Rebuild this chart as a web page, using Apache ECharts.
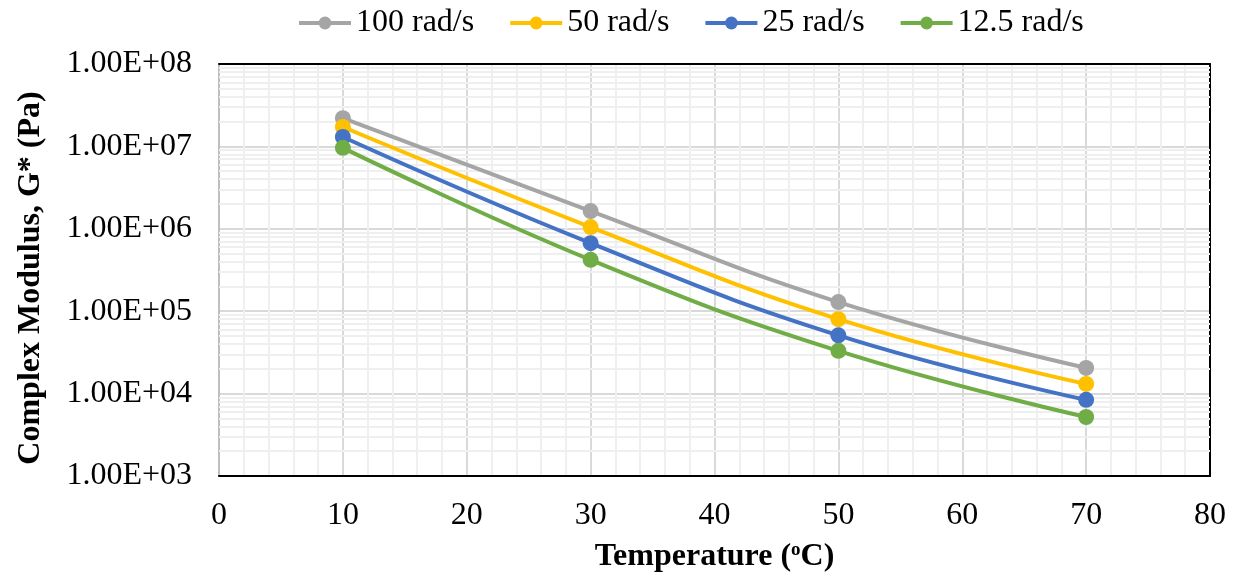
<!DOCTYPE html>
<html><head><meta charset="utf-8">
<script src="https://cdn.jsdelivr.net/npm/echarts@6/dist/echarts.min.js"></script>
<style>html,body{margin:0;padding:0;background:#fff}#c{width:1235px;height:581px}</style>
</head><body><div id="c"></div>
<script>
const temperatures = [10, 30, 50, 70];
const seriesNames = ['100 rad/s', '50 rad/s', '25 rad/s', '12.5 rad/s'];
const g100 = [2.2e7, 1.64e6, 1.29e5, 2.05e4];
const g50 = [1.72e7, 1.05e6, 8.0e4, 1.31e4];
const g25 = [1.30e7, 6.7e5, 5.1e4, 8.4e3];
const g12_5 = [9.6e6, 4.2e5, 3.3e4, 5.2e3];
const colors = ['#A5A5A5', '#FFC000', '#4472C4', '#70AD47'];
const yTickLabels = ['1.00E+03','1.00E+04','1.00E+05','1.00E+06','1.00E+07','1.00E+08'];

const allData = [g100, g50, g25, g12_5];
const font = 'Liberation Serif, Times New Roman, serif';
const FS = 32;

// minor log grid positions (2..9 in each decade)
const minorLines = [];
for (let d = 3; d < 8; d++) for (let m = 2; m <= 9; m++) minorLines.push({ yAxis: m * Math.pow(10, d) });

const series = allData.map((arr, i) => ({
  name: seriesNames[i],
  type: 'line',
  data: arr.map((v, j) => [temperatures[j], v]),
  smooth: 0.45,
  symbol: 'circle',
  symbolSize: 16,
  z: 10 + i,
  lineStyle: { width: 4, color: colors[i] },
  itemStyle: { color: colors[i] }
}));
series.push({
  type: 'line', data: [], silent: true, z: 1,
  markLine: {
    silent: true, symbol: 'none', label: { show: false },
    lineStyle: { color: '#efefef', width: 2, type: 'solid' },
    data: minorLines, animation: false
  }
});

const chart = echarts.init(document.getElementById('c'));
chart.setOption({
  animation: false,
  color: colors,
  textStyle: { fontFamily: font },
  legend: {
    data: seriesNames,
    top: 2, left: 292,
    itemWidth: 52, itemHeight: 16, itemGap: 34,
    lineStyle: { width: 4 },
    textStyle: { fontSize: FS, fontFamily: font, color: '#000' }
  },
  grid: { left: 219, right: 25, top: 64, bottom: 105, containLabel: false },
  xAxis: [{
    type: 'value', min: 0, max: 80, interval: 10,
    name: '{b|Temperature (}{s|o}{b|C)}', nameLocation: 'middle', nameGap: 65,
    nameTextStyle: { rich: { b: { fontSize: FS, fontWeight: 'bold', fontFamily: font, color: '#000' }, s: { fontSize: 19, fontWeight: 'bold', fontFamily: font, color: '#000', verticalAlign: 'top', padding: [0,0,10,0] } } },
    axisLine: { show: true, lineStyle: { color: '#000', width: 2 } },
    axisTick: { show: false },
    axisLabel: { fontSize: FS, fontFamily: font, color: '#000', margin: 24 },
    splitLine: { show: true, lineStyle: { color: '#d9d9d9', width: 2 } },
    minorTick: { show: false, splitNumber: 5 },
    minorSplitLine: { show: true, lineStyle: { color: '#efefef', width: 2 } }
  }, {
    type: 'value', min: 0, max: 80, position: 'top',
    axisLine: { show: true, onZero: false, lineStyle: { color: '#000', width: 2 } },
    axisTick: { show: false }, axisLabel: { show: false }, splitLine: { show: false }
  }],
  yAxis: [{
    type: 'log', logBase: 10, min: 1e3, max: 1e8,
    name: 'Complex Modulus, G* (Pa)', nameLocation: 'middle', nameGap: 172,
    nameTextStyle: { fontSize: FS, fontWeight: 'bold', fontFamily: font, color: '#000', padding: [0, 16, 0, 0] },
    axisLine: { show: true, lineStyle: { color: '#bfbfbf', width: 2 } },
    axisTick: { show: false },
    axisLabel: { fontSize: FS, fontFamily: font, color: '#000', margin: 27,
      formatter: v => { const e = Math.round(Math.log10(v)); return yTickLabels[e - 3] || ''; } },
    splitLine: { show: true, lineStyle: { color: '#d9d9d9', width: 2 } },
    minorSplitLine: { show: false }
  }, {
    type: 'log', logBase: 10, min: 1e3, max: 1e8, position: 'right',
    axisLine: { show: true, onZero: false, lineStyle: { color: '#000', width: 2 } },
    axisTick: { show: false }, axisLabel: { show: false }, splitLine: { show: false }
  }],
  series: series
});
</script></body></html>
